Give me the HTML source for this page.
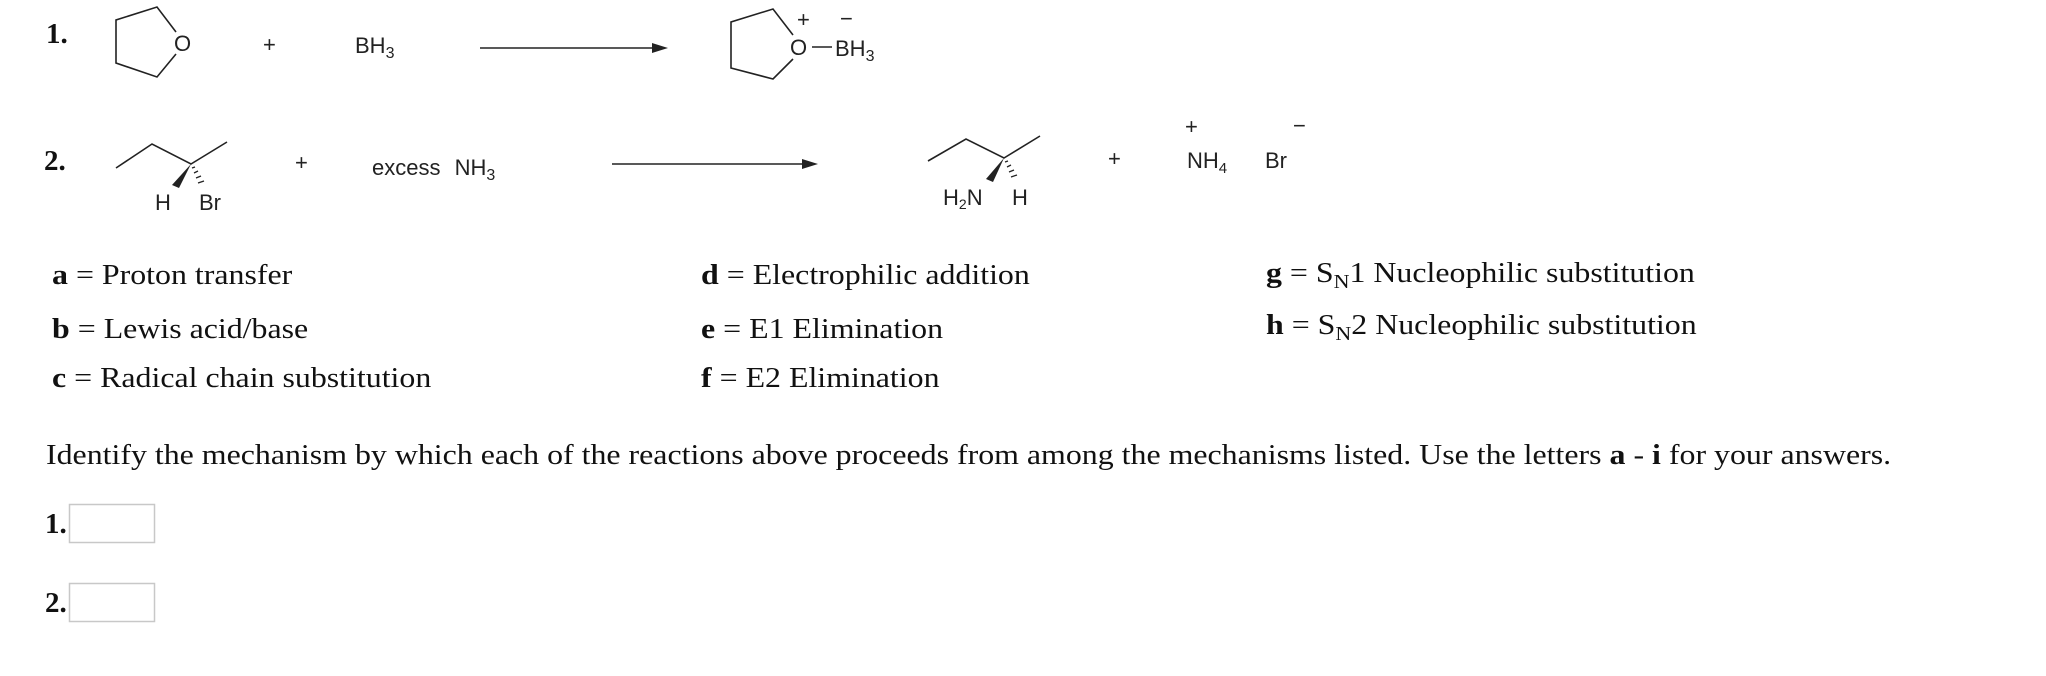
<!DOCTYPE html>
<html><head><meta charset="utf-8"><style>
html,body{margin:0;padding:0;background:#fff;}
body{width:2046px;height:676px;overflow:hidden;position:relative;}
svg{position:absolute;left:0;top:0;}
.t{font-family:"Liberation Serif",serif;font-size:29px;fill:#111;}
.c{font-family:"Liberation Sans",sans-serif;font-size:22px;fill:#222;}
.b{font-weight:bold;}
</style></head><body>
<svg width="2046" height="676" viewBox="0 0 2046 676">
<g stroke="#222" stroke-width="1.6" fill="none">
<polyline points="176,32 157,7 116,20 116,63 157,77 176,54"/>
<line x1="480" y1="48" x2="655" y2="48"/>
<polyline points="793,35 773,9 731,22 731,68 773,79 793,59"/>
<line x1="812" y1="47" x2="832" y2="47"/>
<polyline points="116,168 152,144 191,164 227,142"/>
<line x1="612" y1="164" x2="806" y2="164"/>
<polyline points="928,161 966,139 1004,158 1040,136"/>
</g>
<g fill="#222">
<polygon points="668,48 652,43 652,53"/>
<polygon points="818,164 802,159 802,169"/>
<polygon points="191,164 172,185 179,188"/>
<polygon points="1004,158 986,179 993,182"/>
</g>
<g stroke="#222" stroke-width="1.3">
<line x1="192" y1="168" x2="195" y2="167"/>
<line x1="194" y1="173" x2="198" y2="171"/>
<line x1="196" y1="178" x2="201" y2="176"/>
<line x1="198" y1="183" x2="204" y2="181"/>
<line x1="1005" y1="162" x2="1008" y2="161"/>
<line x1="1007" y1="167" x2="1011" y2="165"/>
<line x1="1009" y1="172" x2="1014" y2="170"/>
<line x1="1011" y1="177" x2="1017" y2="175"/>
</g>
<text class="t b" x="46" y="43" font-size="26">1.</text>
<text class="c" x="174" y="51">O</text>
<text class="c" x="263" y="52" font-size="20">+</text>
<text class="c" x="355" y="53" font-size="24">BH<tspan font-size="16" dy="5">3</tspan></text>
<text class="c" x="790" y="55">O</text>
<text class="c" x="797" y="27" font-size="18">+</text>
<text class="c" x="840" y="26" font-size="16">−</text>
<text class="c" x="835" y="56" font-size="24">BH<tspan font-size="16" dy="5">3</tspan></text>
<text class="t b" x="44" y="170" font-size="26">2.</text>
<text class="c" x="155" y="210" font-size="20">H</text>
<text class="c" x="199" y="210" font-size="20">Br</text>
<text class="c" x="295" y="170" font-size="18">+</text>
<text class="c" x="372" y="175" font-size="24" word-spacing="8">excess NH<tspan font-size="16" dy="5">3</tspan></text>
<text class="c" x="943" y="205" font-size="21">H<tspan font-size="14" dy="4">2</tspan><tspan dy="-4">N</tspan></text>
<text class="c" x="1012" y="205" font-size="21">H</text>
<text class="c" x="1108" y="166" font-size="18">+</text>
<text class="c" x="1185" y="134" font-size="15">+</text>
<text class="c" x="1187" y="168" font-size="22">NH<tspan font-size="15" dy="5">4</tspan></text>
<text class="c" x="1265" y="168" font-size="22">Br</text>
<text class="c" x="1293" y="133" font-size="15">−</text>
<g transform="scale(1.1,1)">
<text class="t" x="47.3" y="284"><tspan class="b">a</tspan> = Proton transfer</text>
<text class="t" x="47.3" y="338"><tspan class="b">b</tspan> = Lewis acid/base</text>
<text class="t" x="47.3" y="387"><tspan class="b">c</tspan> = Radical chain substitution</text>
<text class="t" x="637.3" y="284"><tspan class="b">d</tspan> = Electrophilic addition</text>
<text class="t" x="637.3" y="338"><tspan class="b">e</tspan> = E1 Elimination</text>
<text class="t" x="637.3" y="387"><tspan class="b">f</tspan> = E2 Elimination</text>
<text class="t" x="1150.9" y="282"><tspan class="b">g</tspan> = S<tspan font-size="20" dy="6">N</tspan><tspan dy="-6">1 Nucleophilic substitution</tspan></text>
<text class="t" x="1150.9" y="334"><tspan class="b">h</tspan> = S<tspan font-size="20" dy="6">N</tspan><tspan dy="-6">2 Nucleophilic substitution</tspan></text>
<text class="t" x="41.8" y="464">Identify the mechanism by which each of the reactions above proceeds from among the mechanisms listed. Use the letters <tspan class="b">a</tspan> - <tspan class="b">i</tspan> for your answers.</text>
</g>
<text class="t b" x="45" y="533">1.</text>
<text class="t b" x="45" y="612">2.</text>
<rect x="69.5" y="504.5" width="85" height="38" fill="#fff" stroke="#c8c8c8" stroke-width="1.5"/>
<rect x="69.5" y="583.5" width="85" height="38" fill="#fff" stroke="#c8c8c8" stroke-width="1.5"/>
</svg>
</body></html>
